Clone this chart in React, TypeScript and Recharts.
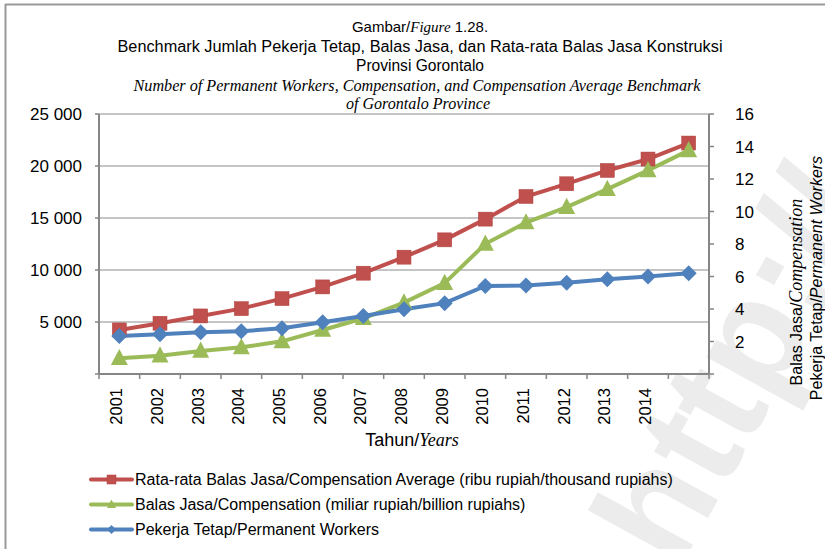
import React from 'react';
import { LineChart, Line, XAxis, YAxis, CartesianGrid } from 'recharts';

// categories (last slot has no label in the source)
const years = ['2001', '2002', '2003', '2004', '2005', '2006', '2007', '2008', '2009', '2010', '2011', '2012', '2013', '2014', ''];

// Rata-rata Balas Jasa (ribu rupiah) - left axis
const avgCompensation = [4236, 4880, 5583, 6286, 7249, 8375, 9694, 11234, 12899, 14892, 17068, 18290, 19571, 20668, 22208];
// Balas Jasa (miliar rupiah) - right axis
const compensation = [0.97, 1.13, 1.42, 1.64, 2.01, 2.71, 3.43, 4.39, 5.59, 8.01, 9.32, 10.27, 11.38, 12.53, 13.76];
// Pekerja Tetap - right axis
const permanentWorkers = [2.34, 2.45, 2.57, 2.63, 2.82, 3.19, 3.57, 3.99, 4.36, 5.42, 5.44, 5.61, 5.83, 6.0, 6.2];

const leftTicks = [0, 5000, 10000, 15000, 20000, 25000];
const rightTicks = [0, 2, 4, 6, 8, 10, 12, 14, 16];

const legendLabels = [
  'Rata-rata Balas Jasa/Compensation Average (ribu rupiah/thousand rupiahs)',
  'Balas Jasa/Compensation (miliar rupiah/billion rupiahs)',
  'Pekerja Tetap/Permanent Workers',
];

const RED = '#c0504d';
const GREEN = '#9bbb59';
const BLUE = '#4f81bd';
const AXIS = '#868686';
const SANS = "'Liberation Sans', Arial, sans-serif";
const SERIF = "'Liberation Serif', 'Times New Roman', serif";

const PLOT_W = 825 - 99 - 116;
const BAND = PLOT_W / years.length;

const data = years.map((year, i) => ({
  year,
  avg: avgCompensation[i],
  comp: compensation[i],
  workers: permanentWorkers[i],
}));

const fmtLeft = (v: number) => (v === 0 ? '' : v.toLocaleString('en-US').replace(/,/g, ' '));
const fmtRight = (v: number) => (v === 0 ? '' : String(v));

const square = (cx: number, cy: number, s: number, fill: string, key?: any) => (
  <rect key={key} x={cx - s / 2} y={cy - s / 2} width={s} height={s} fill={fill} stroke="#b0413e" strokeWidth={0.5} />
);
const triangle = (cx: number, cy: number, s: number, fill: string, key?: any) => (
  <polygon
    key={key}
    points={`${cx},${cy - s * 0.55} ${cx + s / 2},${cy + s * 0.4} ${cx - s / 2},${cy + s * 0.4}`}
    fill={fill}
  />
);
const diamond = (cx: number, cy: number, s: number, fill: string, key?: any) => (
  <polygon
    key={key}
    points={`${cx},${cy - s / 2} ${cx + s / 2},${cy} ${cx},${cy + s / 2} ${cx - s / 2},${cy}`}
    fill={fill}
  />
);

const YearTick = (props: any) => {
  const { x, y, payload, index, visibleTicksCount } = props;
  const half = BAND / 2;
  return (
    <g>
      <line x1={x - half} x2={x - half} y1={y} y2={y + 5} stroke={AXIS} strokeWidth={1.5} />
      {index === visibleTicksCount - 1 && (
        <line x1={x + half} x2={x + half} y1={y} y2={y + 5} stroke={AXIS} strokeWidth={1.5} />
      )}
      {payload.value !== '' && (
        <text
          x={x + 3}
          y={y + 14}
          transform={`rotate(-90, ${x + 3}, ${y + 14})`}
          textAnchor="end"
          fontSize={16.5}
          fontFamily={SANS}
          fill="#000"
        >
          {payload.value}
        </text>
      )}
    </g>
  );
};

const markers = [square, triangle, diamond];
const colors = [RED, GREEN, BLUE];

export default function App() {
  return (
    <div style={{ position: 'absolute', left: 0, top: 0, width: 825, height: 549, background: '#fff', overflow: 'hidden' }}>
      {/* watermark */}
      <svg width={825} height={549} style={{ position: 'absolute', left: 0, top: 0 }}>
        <text
          x={678}
          y={572}
          transform="rotate(-61, 678, 572)"
          fontSize={150}
          fontWeight="bold"
          fontFamily={SANS}
          fill="#ececec"
        >
          http://
        </text>
      </svg>

      <div style={{ position: 'absolute', left: 0, top: 0 }}>
        <LineChart width={825} height={549} data={data} margin={{ top: 114, right: 0, bottom: 115, left: 0 }}>
          <CartesianGrid yAxisId="left" vertical={false} stroke="#8c8c8c" strokeWidth={1.2} />
          <XAxis
            dataKey="year"
            scale="band"
            height={60}
            interval={0}
            tickSize={0}
            tickMargin={0}
            tickLine={false}
            axisLine={{ stroke: AXIS, strokeWidth: 2 }}
            tick={<YearTick />}
          />
          <YAxis
            yAxisId="left"
            width={99}
            domain={[0, 25000]}
            ticks={leftTicks}
            interval={0}
            tickFormatter={fmtLeft}
            tickSize={4}
            tickMargin={13}
            axisLine={{ stroke: AXIS, strokeWidth: 2 }}
            tickLine={{ stroke: AXIS, strokeWidth: 1.5 }}
            tick={{ fontSize: 17, fill: '#000', fontFamily: SANS }}
          />
          <YAxis
            yAxisId="right"
            orientation="right"
            width={116}
            domain={[0, 16]}
            ticks={rightTicks}
            interval={0}
            tickFormatter={fmtRight}
            tickSize={5}
            tickMargin={21}
            axisLine={{ stroke: AXIS, strokeWidth: 2 }}
            tickLine={{ stroke: AXIS, strokeWidth: 1.5 }}
            tick={{ fontSize: 17, fill: '#000', fontFamily: SANS, textAnchor: 'start' }}
          />
          <Line
            yAxisId="left"
            dataKey="avg"
            stroke={RED}
            strokeWidth={4}
            isAnimationActive={false}
            dot={(p: any) => square(p.cx, p.cy, 14, RED, `r${p.index}`)}
            activeDot={false}
          />
          <Line
            yAxisId="right"
            dataKey="comp"
            stroke={GREEN}
            strokeWidth={4}
            isAnimationActive={false}
            dot={(p: any) => triangle(p.cx, p.cy, 17, GREEN, `g${p.index}`)}
            activeDot={false}
          />
          <Line
            yAxisId="right"
            dataKey="workers"
            stroke={BLUE}
            strokeWidth={4}
            isAnimationActive={false}
            dot={(p: any) => diamond(p.cx, p.cy, 16, BLUE, `b${p.index}`)}
            activeDot={false}
          />
        </LineChart>
      </div>

      {/* titles, axis labels, legend, frame */}
      <svg width={825} height={549} style={{ position: 'absolute', left: 0, top: 0, pointerEvents: 'none' }}>
        <line x1={5} y1={4.5} x2={825} y2={4.5} stroke="#999" strokeWidth={2} />
        <line x1={5.5} y1={4} x2={5.5} y2={549} stroke="#999" strokeWidth={2} />

        <g fill="#000" textAnchor="middle">
          <text x={420} y={32} fontSize={15} fontFamily={SANS}>
            Gambar/<tspan fontFamily={SERIF} fontStyle="italic">Figure</tspan> 1.28.
          </text>
          <text x={420} y={52} fontSize={16} fontFamily={SANS} textLength={605} lengthAdjust="spacingAndGlyphs">
            Benchmark Jumlah Pekerja Tetap, Balas Jasa, dan Rata-rata Balas Jasa Konstruksi
          </text>
          <text x={420} y={71} fontSize={16} fontFamily={SANS} textLength={128} lengthAdjust="spacingAndGlyphs">
            Provinsi Gorontalo
          </text>
          <text x={417} y={91} fontSize={16} fontFamily={SERIF} fontStyle="italic" textLength={567} lengthAdjust="spacingAndGlyphs">
            Number of Permanent Workers, Compensation, and Compensation Average Benchmark
          </text>
          <text x={418} y={109} fontSize={16} fontFamily={SERIF} fontStyle="italic" textLength={144} lengthAdjust="spacingAndGlyphs">
            of Gorontalo Province
          </text>
          <text x={412} y={446} fontSize={18} fontFamily={SANS}>
            Tahun/<tspan fontFamily={SERIF} fontStyle="italic">Years</tspan>
          </text>
        </g>

        <text
          x={802}
          y={292}
          transform="rotate(-90, 802, 292)"
          textAnchor="middle"
          fontSize={16}
          fontFamily={SANS}
          fill="#000"
        >
          Balas Jasa/<tspan fontFamily={SERIF} fontStyle="italic" fontSize={18}>Compensation</tspan>
        </text>
        <text x={822} y={278} transform="rotate(-90, 822, 278)" textAnchor="middle" fontSize={16} fontFamily={SANS} fill="#000">
          Pekerja Tetap/<tspan fontStyle="italic">Permanent Workers</tspan>
        </text>

        {legendLabels.map((label, i) => {
          const cy = 479.5 + i * 25;
          return (
            <g key={label}>
              <line x1={91} x2={132} y1={cy} y2={cy} stroke={colors[i]} strokeWidth={4} strokeLinecap="round" />
              {markers[i](111.5, cy, 9, colors[i])}
              <text x={135} y={cy + 5.5} fontSize={16} fontFamily={SANS} fill="#000">
                {label}
              </text>
            </g>
          );
        })}
      </svg>
    </div>
  );
}
